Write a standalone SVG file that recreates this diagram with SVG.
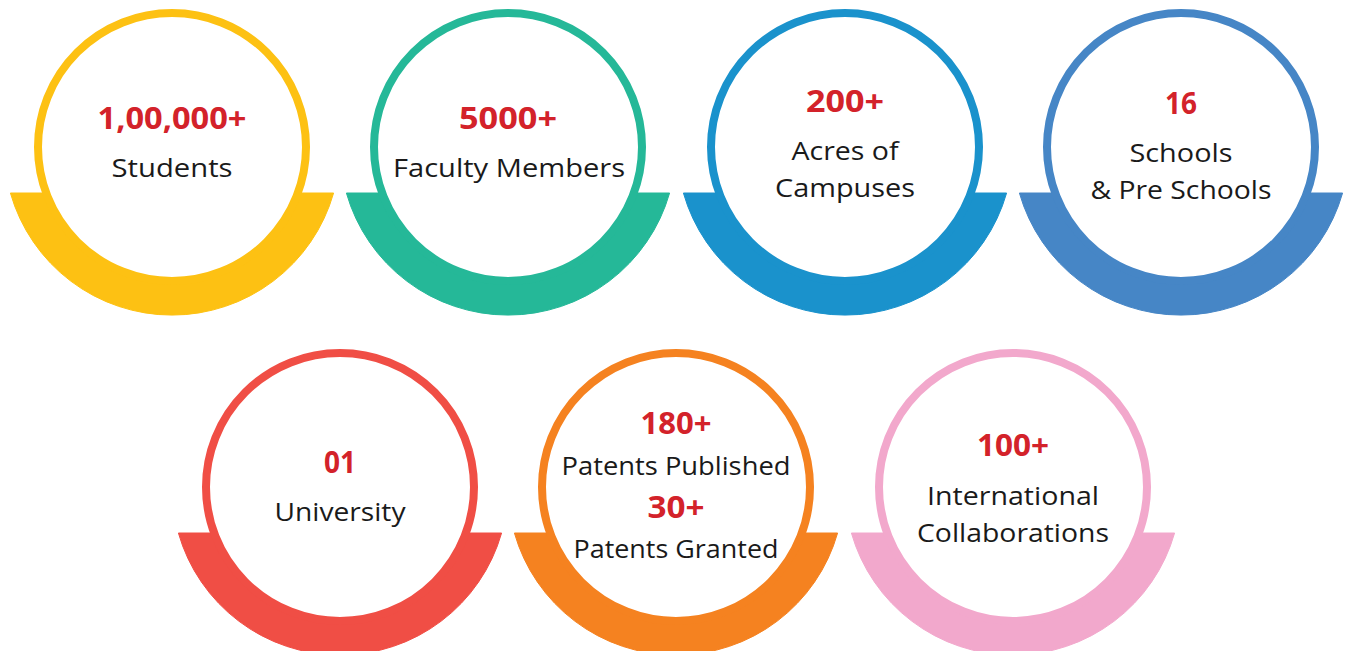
<svg xmlns="http://www.w3.org/2000/svg" width="1346" height="651" viewBox="0 0 1346 651">
<style>
.num{font-family:"Open Sans","Liberation Sans",sans-serif;font-weight:700;font-size:30px;fill:#D3222A;text-anchor:middle}
.lbl{font-family:"Open Sans","Liberation Sans",sans-serif;font-weight:400;font-size:25px;fill:#1a1a1a;text-anchor:middle}
.ring{fill:#fff;stroke-width:8}
.c1{fill:#FDC113;stroke:#FDC113}
.c2{fill:#25B898;stroke:#25B898}
.c3{fill:#1A92CC;stroke:#1A92CC}
.c4{fill:#4686C6;stroke:#4686C6}
.c5{fill:#F04E45;stroke:#F04E45}
.c6{fill:#F58220;stroke:#F58220}
.c7{fill:#F2A8CC;stroke:#F2A8CC}
</style>
<defs>
<path id="base" d="M -161.6 46 H 161.6 A 168 168 0 0 1 -161.6 46 Z"/>
<circle id="disc" r="134"/>
</defs>
<rect width="1346" height="651" fill="#fff"/>
<g id="students">
<use href="#base" x="172" y="147" class="c1"/>
<circle cx="172" cy="147" r="134" class="ring c1" style="fill:#fff"/>
<text class="num" x="172" y="129" textLength="149" lengthAdjust="spacingAndGlyphs">1,00,000+</text>
<text class="lbl" x="172" y="177" textLength="121" lengthAdjust="spacingAndGlyphs">Students</text>
</g>
<g id="faculty">
<use href="#base" x="508" y="147" class="c2"/>
<circle cx="508" cy="147" r="134" class="ring c2" style="fill:#fff"/>
<text class="num" x="508" y="129" textLength="98" lengthAdjust="spacingAndGlyphs">5000+</text>
<text class="lbl" x="509" y="177" textLength="232" lengthAdjust="spacingAndGlyphs">Faculty Members</text>
</g>
<g id="acres">
<use href="#base" x="845" y="147" class="c3"/>
<circle cx="845" cy="147" r="134" class="ring c3" style="fill:#fff"/>
<text class="num" x="845" y="112" textLength="78" lengthAdjust="spacingAndGlyphs">200+</text>
<text class="lbl" x="845" y="160" textLength="107" lengthAdjust="spacingAndGlyphs">Acres of</text>
<text class="lbl" x="845" y="197" textLength="140" lengthAdjust="spacingAndGlyphs">Campuses</text>
</g>
<g id="schools">
<use href="#base" x="1181" y="147" class="c4"/>
<circle cx="1181" cy="147" r="134" class="ring c4" style="fill:#fff"/>
<text class="num" x="1181" y="114" textLength="32" lengthAdjust="spacingAndGlyphs">16</text>
<text class="lbl" x="1181" y="162" textLength="103" lengthAdjust="spacingAndGlyphs">Schools</text>
<text class="lbl" x="1181" y="199" textLength="181" lengthAdjust="spacingAndGlyphs">&amp; Pre Schools</text>
</g>
<g id="university">
<use href="#base" x="340" y="487" class="c5"/>
<circle cx="340" cy="487" r="134" class="ring c5" style="fill:#fff"/>
<text class="num" x="340" y="473" textLength="32" lengthAdjust="spacingAndGlyphs">01</text>
<text class="lbl" x="340" y="521" textLength="131" lengthAdjust="spacingAndGlyphs">University</text>
</g>
<g id="patents">
<use href="#base" x="676" y="487" class="c6"/>
<circle cx="676" cy="487" r="134" class="ring c6" style="fill:#fff"/>
<text class="num" x="676" y="434" textLength="71" lengthAdjust="spacingAndGlyphs">180+</text>
<text class="lbl" x="676" y="475" textLength="229" lengthAdjust="spacingAndGlyphs">Patents Published</text>
<text class="num" x="676" y="518" textLength="57" lengthAdjust="spacingAndGlyphs">30+</text>
<text class="lbl" x="676" y="558" textLength="205" lengthAdjust="spacingAndGlyphs">Patents Granted</text>
</g>
<g id="collaborations">
<use href="#base" x="1013" y="487" class="c7"/>
<circle cx="1013" cy="487" r="134" class="ring c7" style="fill:#fff"/>
<text class="num" x="1013" y="456" textLength="72" lengthAdjust="spacingAndGlyphs">100+</text>
<text class="lbl" x="1013" y="505" textLength="172" lengthAdjust="spacingAndGlyphs">International</text>
<text class="lbl" x="1013" y="542" textLength="192" lengthAdjust="spacingAndGlyphs">Collaborations</text>
</g>
<g id="connectors"/>
</svg>
